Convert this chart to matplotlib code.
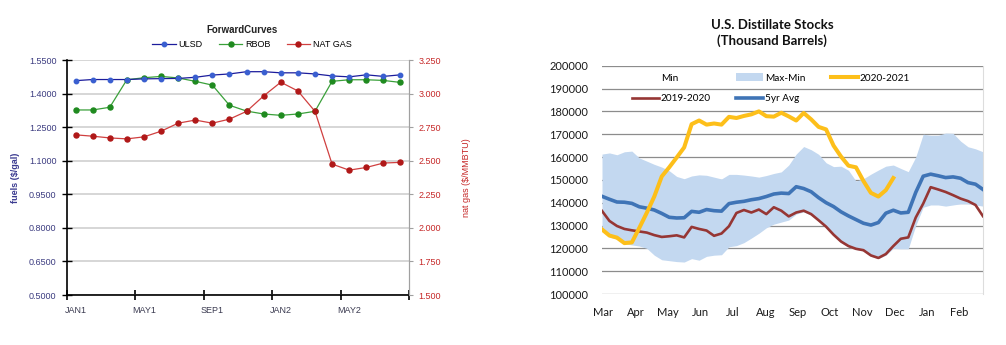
import numpy as np
import matplotlib
matplotlib.use("Agg")
import matplotlib.pyplot as plt
from matplotlib.lines import Line2D
from matplotlib.patches import Patch

# ---------------- Forward curves data ----------------
contracts = ["JAN1", "FEB1", "MAR1", "APR1", "MAY1", "JUN1", "JUL1", "AUG1",
             "SEP1", "OCT1", "NOV1", "DEC1", "JAN2", "FEB2", "MAR2", "APR2",
             "MAY2", "JUN2", "JUL2", "AUG2"]
ulsd = [1.458, 1.463, 1.463, 1.463, 1.466, 1.467, 1.468, 1.473, 1.483, 1.488,
        1.498, 1.498, 1.493, 1.493, 1.488, 1.479, 1.475, 1.484, 1.477, 1.484]
rbob = [1.327, 1.327, 1.339, 1.462, 1.471, 1.477, 1.470, 1.455, 1.438, 1.348,
        1.322, 1.309, 1.303, 1.309, 1.321, 1.455, 1.462, 1.462, 1.459, 1.450]
nat_gas = [2.693, 2.683, 2.670, 2.663, 2.678, 2.720, 2.780, 2.803, 2.780, 2.810,
           2.868, 2.983, 3.085, 3.020, 2.868, 2.475, 2.430, 2.450, 2.483, 2.488]
fuel_ticks = [0.50, 0.65, 0.80, 0.95, 1.10, 1.25, 1.40, 1.55]
gas_ticks = [1.50, 1.75, 2.00, 2.25, 2.50, 2.75, 3.00, 3.25]

# ---------------- Distillate stocks data (thousand barrels, weekly) ----------------
months = ["Mar", "Apr", "May", "Jun", "Jul", "Aug", "Sep", "Oct", "Nov", "Dec", "Jan", "Feb"]
stock_max = [161.3, 161.8, 161.0, 162.3, 162.6, 159.6, 158.2, 156.8, 155.6, 154.0,
             151.5, 150.5, 151.7, 152.2, 152.0, 151.2, 150.4, 152.4, 152.4, 152.1,
             151.7, 151.2, 151.9, 152.8, 153.5, 156.5, 161.3, 164.6, 163.2, 161.2,
             157.5, 155.8, 156.0, 154.2, 149.5, 150.5, 152.5, 154.3, 156.0, 156.5,
             155.0, 153.6, 160.0, 170.0, 169.5, 169.5, 170.5, 170.4, 167.0, 164.5,
             163.6, 162.3]
stock_min = [127.5, 125.0, 124.0, 122.0, 121.5, 121.0, 120.0, 117.0, 115.0, 114.6,
             114.2, 114.0, 115.5, 114.8, 116.5, 117.0, 117.2, 120.7, 121.2, 122.5,
             124.5, 126.6, 129.0, 130.6, 131.5, 132.4, 135.0, 136.0, 134.5, 131.8,
             129.0, 125.5, 122.5, 120.5, 119.5, 118.8, 116.5, 115.5, 117.0, 120.0,
             119.8, 119.8, 130.0, 138.0, 139.0, 139.0, 138.5, 139.0, 139.5, 139.5,
             139.0, 138.5]
avg_5yr = [142.8, 141.5, 140.3, 140.2, 139.7, 138.2, 137.6, 136.8, 135.3, 133.6,
           133.3, 133.4, 136.2, 135.8, 137.0, 136.5, 136.3, 139.6, 140.2, 140.6,
           141.3, 141.8, 142.7, 143.8, 144.2, 144.0, 147.0, 146.2, 144.8, 142.2,
           140.0, 138.3, 136.0, 134.2, 132.6, 131.0, 130.2, 131.3, 135.4, 136.7,
           135.5, 135.8, 144.5, 151.6, 152.5, 151.8, 151.0, 151.3, 150.7, 148.8,
           148.1, 145.8]
y2019_2020 = [136.4, 132.0, 129.8, 128.5, 127.9, 127.4, 126.9, 125.8, 125.0, 125.3,
              125.7, 124.8, 129.4, 128.5, 127.8, 125.5, 126.5, 129.7, 135.5, 136.8,
              135.7, 137.0, 135.0, 138.0, 136.5, 134.0, 135.7, 136.5, 135.0, 132.3,
              129.5, 126.0, 123.0, 121.0, 119.8, 119.2, 116.9, 115.8, 117.5, 121.0,
              124.2, 124.8, 133.5, 139.6, 146.8, 145.8, 144.7, 143.3, 141.8, 140.7,
              139.0, 134.1]
y2020_2021 = [128.3, 125.6, 124.7, 122.3, 122.6, 129.0, 135.6, 142.7, 151.5, 155.5,
              159.8, 164.2, 174.4, 176.0, 174.2, 174.7, 174.2, 177.6, 177.1, 178.0,
              178.7, 180.0, 177.9, 177.7, 179.4, 177.8, 176.0, 179.3, 176.5, 173.2,
              172.1, 165.0, 160.2, 156.2, 155.5, 149.5, 144.3, 142.7, 145.5, 150.8]
stock_ticks = list(range(100000, 200001, 10000))

fig = plt.figure(figsize=(10.06, 3.45), dpi=100)
fig.patch.set_facecolor("white")

# =============== Left: forward curves ===============
red = "#c62828"
ax1 = fig.add_axes([0.0666, 0.1449, 0.340, 0.681])
x = np.arange(len(contracts))
ax1.plot(x, ulsd, color="#1c1c9c", lw=0.9, marker="o", ms=3.2,
         mfc="#3a5fd0", mec="#3a5fd0", label="ULSD", zorder=4)
ax1.plot(x, rbob, color="#3aa03a", lw=0.9, marker="o", ms=3.6,
         mfc="#1f8a1f", mec="#1f8a1f", label="RBOB", zorder=3)
ax1.set_xlim(-0.5, len(contracts) - 0.5)
ax1.set_ylim(fuel_ticks[0], fuel_ticks[-1])
ax1.set_yticks(fuel_ticks)
ax1.set_yticklabels([f"{v:.4f}" for v in fuel_ticks], fontsize=6.5,
                    color="#3c3c80", family="Liberation Sans")
ax1.grid(axis="y", color="#cfcfcf", lw=1.2)
ax1.set_axisbelow(True)
ax1.set_xticks(np.arange(-0.5, len(contracts), 4))
ax1.set_xticklabels([])
ax1.set_xticks(x[::4], minor=True)
ax1.set_xticklabels(contracts[::4], minor=True, fontsize=6.5,
                    color="#3a3a50", family="Liberation Sans")
ax1.tick_params(axis="x", which="major", direction="inout", length=7, width=1.2, color="black")
ax1.tick_params(axis="x", which="minor", length=0, pad=8)
ax1.tick_params(axis="y", direction="inout", length=7, width=1.0, color="black", pad=4)
ax1.spines["top"].set_visible(False)
ax1.spines["left"].set_color("black")
ax1.spines["left"].set_linewidth(1.2)
ax1.spines["bottom"].set_color("black")
ax1.spines["bottom"].set_linewidth(1.2)
ax1.spines["right"].set_color("#a0a0a0")
ax1.set_ylabel("fuels ($/gal)", fontsize=6.5, fontweight="bold", color="#3a3a90",
               family="Liberation Sans")
ax1.yaxis.set_label_coords(-0.137, 0.50)

ax2 = ax1.twinx()
ax2.plot(x, nat_gas, color="#d04040", lw=0.9, marker="o", ms=3.6,
         mfc="#b01818", mec="#b01818", label="NAT GAS", zorder=3)
ax2.set_ylim(gas_ticks[0], gas_ticks[-1])
ax2.set_yticks(gas_ticks)
ax2.set_yticklabels([f"{v:.3f}" for v in gas_ticks], fontsize=6.5, color=red,
                    family="Liberation Sans")
ax2.tick_params(axis="y", direction="out", length=3, color="#a0a0a0", pad=4)
for s in ["top", "left", "bottom"]:
    ax2.spines[s].set_visible(False)
ax2.spines["right"].set_color("#a0a0a0")
ax2.set_ylabel("nat gas ($/MMBTU)", fontsize=6.5, color=red, family="Liberation Sans")
ax2.yaxis.set_label_coords(1.155, 0.50)

fig.text(0.2405, 0.912, "ForwardCurves", ha="center", va="center", fontsize=7,
         fontweight="bold", color="#222222", family="Liberation Sans")
h1, l1 = ax1.get_legend_handles_labels()
h2, l2 = ax2.get_legend_handles_labels()
fig.legend(h1 + h2, l1 + l2, loc="center", bbox_to_anchor=(0.2505, 0.872), ncol=3,
           frameon=False, handlelength=2.6, columnspacing=1.8,
           handletextpad=0.3, prop={"family": "Liberation Sans", "size": 6.5})

# =============== Right: distillate stocks ===============
font_r = "Lato"
ax3 = fig.add_axes([0.5984, 0.1478, 0.3787, 0.6617])
w = np.arange(len(stock_max))
band_color = "#c3d8f0"
ax3.fill_between(w, np.array(stock_min) * 1000, np.array(stock_max) * 1000,
                 color=band_color, lw=0, zorder=2)
ax3.plot(w, np.array(y2019_2020) * 1000, color="#963634", lw=1.9, zorder=3)
ax3.plot(w, np.array(avg_5yr) * 1000, color="#3f74b6", lw=2.6, zorder=4)
ax3.plot(np.arange(len(y2020_2021)), np.array(y2020_2021) * 1000, color="#fdbf1a",
         lw=2.9, zorder=5, solid_joinstyle="round")
ax3.set_xlim(0, len(stock_max) - 1)
ax3.set_ylim(stock_ticks[0], stock_ticks[-1])
ax3.set_yticks(stock_ticks)
ax3.set_yticklabels([str(v) for v in stock_ticks], fontsize=8, family=font_r, color="#1a1a1a")
ax3.grid(axis="y", color="#8c8c8c", lw=0.9)
ax3.set_axisbelow(True)
month_pos = [0.2 + i * 52 / 12 for i in range(len(months))]
ax3.set_xticks(month_pos)
ax3.set_xticklabels(months, fontsize=8, family=font_r, color="#1a1a1a")
ax3.tick_params(axis="both", length=0)
ax3.tick_params(axis="y", pad=10)
ax3.tick_params(axis="x", pad=9)
for s in ["top", "left", "bottom"]:
    ax3.spines[s].set_visible(False)
ax3.spines["right"].set_color("#dddddd")
ax3.spines["right"].set_linewidth(0.8)

fig.text(0.7675, 0.905, "U.S. Distillate Stocks\n(Thousand Barrels)", ha="center",
         va="center", fontsize=9.5, fontweight="bold", family=font_r,
         color="#111111", linespacing=1.35)

handles = [Patch(facecolor="none", edgecolor="none"),
           Line2D([], [], color="#963634", lw=1.9),
           Patch(facecolor=band_color, edgecolor="none"),
           Line2D([], [], color="#3f74b6", lw=2.6),
           Line2D([], [], color="#fdbf1a", lw=2.9)]
labels = ["Min", "2019-2020", "Max-Min", "5yr Avg", "2020-2021"]
ax3.legend(handles, labels, ncol=3, loc="upper left", bbox_to_anchor=(0.06, 1.0),
           frameon=False, prop={"family": font_r, "size": 7.2}, handlelength=2.7,
           handleheight=0.8, handletextpad=0.15, columnspacing=2.55, labelspacing=1.15,
           borderaxespad=0.35)

fig.savefig("out.png", dpi=100, facecolor="white")
